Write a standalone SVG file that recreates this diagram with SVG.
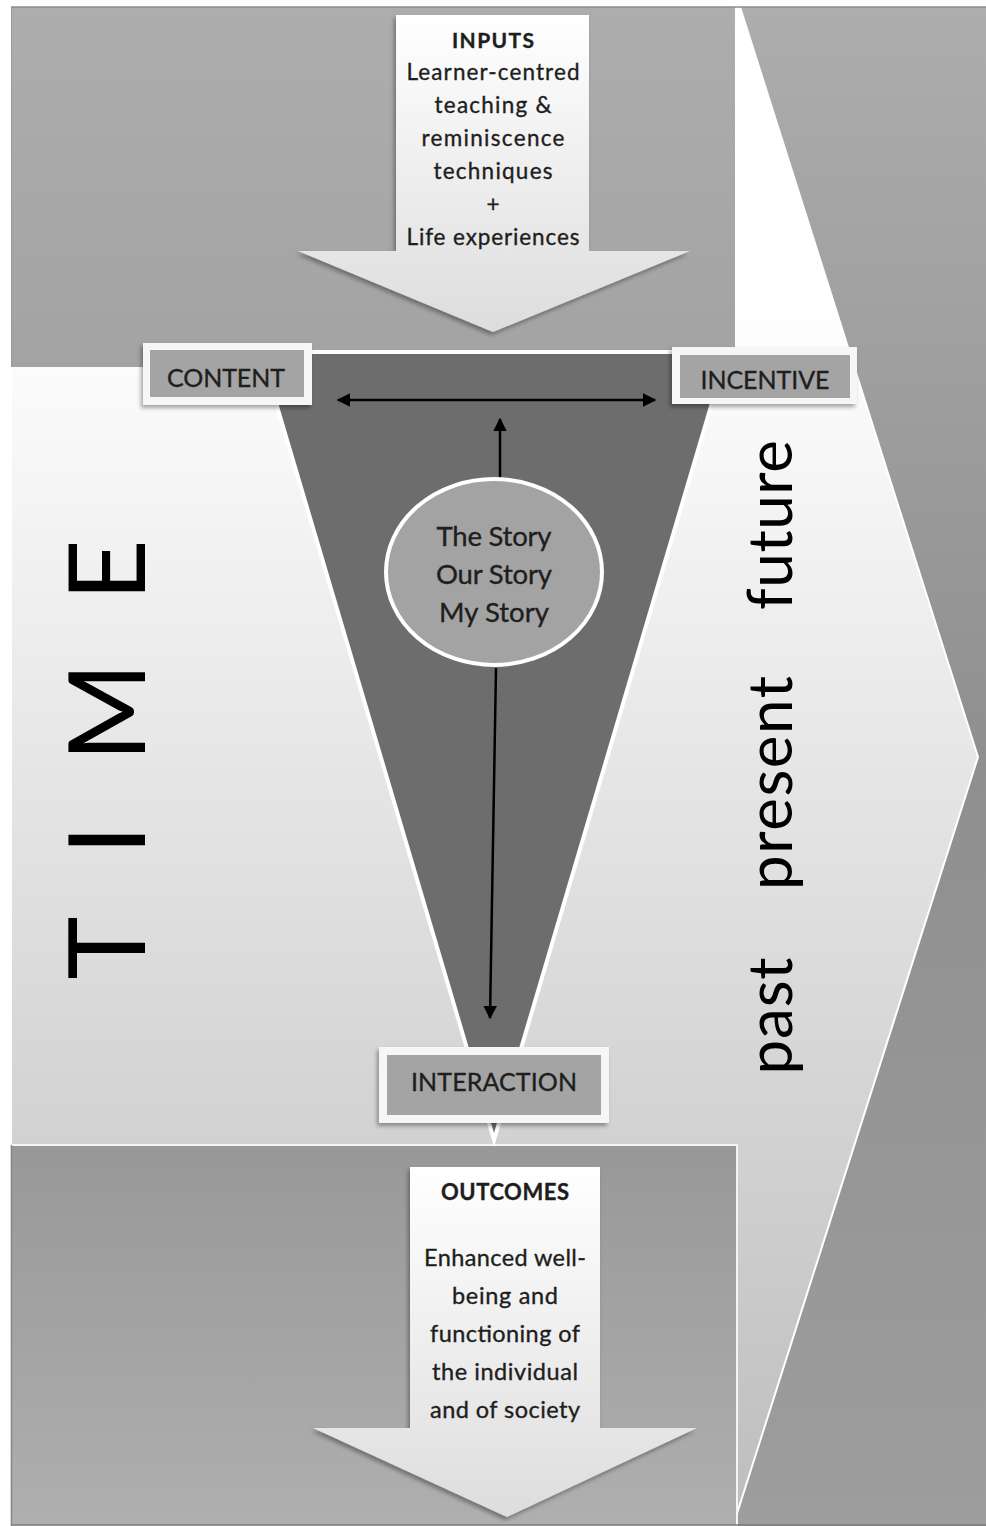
<svg xmlns="http://www.w3.org/2000/svg" width="986" height="1526" viewBox="0 0 986 1526">
<defs>
<linearGradient id="gDark" gradientUnits="userSpaceOnUse" x1="0" y1="7" x2="0" y2="1526">
<stop offset="0" stop-color="#adadad"/><stop offset="0.5" stop-color="#8f8f8f"/><stop offset="1" stop-color="#9d9d9d"/>
</linearGradient>
<linearGradient id="gLight" gradientUnits="userSpaceOnUse" x1="0" y1="300" x2="0" y2="1526">
<stop offset="0" stop-color="#ffffff"/><stop offset="1" stop-color="#bdbdbd"/>
</linearGradient>
<linearGradient id="gTop" gradientUnits="userSpaceOnUse" x1="0" y1="7" x2="0" y2="367">
<stop offset="0" stop-color="#adadad"/><stop offset="1" stop-color="#a3a3a3"/>
</linearGradient>
<linearGradient id="gBot" gradientUnits="userSpaceOnUse" x1="0" y1="1145" x2="0" y2="1526">
<stop offset="0" stop-color="#989898"/><stop offset="1" stop-color="#afafaf"/>
</linearGradient>
<linearGradient id="gArrow" x1="0" y1="0" x2="0" y2="1">
<stop offset="0" stop-color="#ffffff"/><stop offset="1" stop-color="#dddddd"/>
</linearGradient>
<filter id="sh" x="-10%" y="-10%" width="120%" height="130%">
<feDropShadow dx="-2" dy="3" stdDeviation="2" flood-color="#000" flood-opacity="0.35"/>
</filter>
<marker id="ah" viewBox="0 0 10 10" refX="9" refY="5" markerWidth="5.5" markerHeight="5.5" orient="auto-start-reverse" markerUnits="strokeWidth">
<path d="M0,0 L10,5 L0,10 Z" fill="#000"/>
</marker>
<style>
.t{font-family:Lato,"Liberation Sans",sans-serif;fill:#1e1e1e;stroke:#1e1e1e;stroke-width:0.35;text-anchor:middle}
.b{font-weight:bold}
.box-o{fill:#f6f6f6;filter:url(#sh)}
.box-i{fill:#a4a4a4}
.conn{stroke:#000;stroke-width:2.5;fill:none}
.big{font-family:Lato,"Liberation Sans",sans-serif;fill:#000;text-anchor:middle}
</style>
</defs>

<g id="background">
<rect x="11" y="7" width="975" height="1519" fill="url(#gDark)"/>
<polygon id="time-arrow" points="11,7 740,7 978,757 733,1526 11,1526" fill="url(#gLight)" stroke="#ffffff" stroke-width="2"/>
<rect x="11" y="7" width="724" height="360" fill="url(#gTop)"/>
<rect x="11" y="1145" width="726" height="381" fill="url(#gBot)" stroke="#f4f4f4" stroke-width="2"/>
<line x1="11" y1="7" x2="986" y2="7" stroke="#8c8c8c" stroke-width="1.5"/>
<line x1="11" y1="1525" x2="986" y2="1525" stroke="#7a7a7a" stroke-width="1.5"/>
<line x1="11.5" y1="7" x2="11.5" y2="367" stroke="#9a9a9a" stroke-width="1"/>
<line x1="11.5" y1="1145" x2="11.5" y2="1526" stroke="#888" stroke-width="1.5"/>
</g>

<g id="inputs">
<polygon points="396,15 589,15 589,251 690,251 493,332 298,251 396,251" fill="url(#gArrow)" filter="url(#sh)"/>
<text class="t b" x="493" y="48" font-size="21" textLength="82">INPUTS</text>
<text class="t" x="493" y="80" font-size="22.5" textLength="173">Learner-centred</text>
<text class="t" x="493" y="113" font-size="22.5" textLength="117">teaching &amp;</text>
<text class="t" x="493" y="146" font-size="22.5" textLength="143">reminiscence</text>
<text class="t" x="493" y="179" font-size="22.5" textLength="119">techniques</text>
<text class="t" x="493" y="212" font-size="22.5">+</text>
<text class="t" x="493" y="245" font-size="22.5" textLength="173">Life experiences</text>
</g>

<g id="outcomes">
<polygon points="410,1167 600,1167 600,1428 697,1428 507,1517 313,1428 410,1428" fill="url(#gArrow)" filter="url(#sh)"/>
<text class="t b" x="505" y="1200" font-size="22" textLength="128">OUTCOMES</text>
<text class="t" x="505" y="1266" font-size="23.5" textLength="162">Enhanced well-</text>
<text class="t" x="505" y="1304" font-size="23.5" textLength="106">being and</text>
<text class="t" x="505" y="1342" font-size="23.5" textLength="150">functioning of</text>
<text class="t" x="505" y="1380" font-size="23.5" textLength="146">the individual</text>
<text class="t" x="505" y="1418" font-size="23.5" textLength="150">and of society</text>
</g>

<g id="funnel">
<polygon points="261,352 727,352 494,1140" fill="#6d6d6d" stroke="#ffffff" stroke-width="4"/>
</g>

<g id="connectors">
<line class="conn" x1="338" y1="400" x2="655" y2="400" marker-start="url(#ah)" marker-end="url(#ah)"/>
<line class="conn" x1="500" y1="478" x2="500" y2="419" marker-end="url(#ah)"/>
<line class="conn" x1="496" y1="668" x2="490" y2="1018" marker-end="url(#ah)"/>
</g>

<g id="story">
<ellipse cx="494" cy="572" rx="108" ry="93" fill="#a3a3a3" stroke="#ffffff" stroke-width="4"/>
<text class="t" x="494" y="546" font-size="27.5" textLength="115">The Story</text>
<text class="t" x="494" y="584" font-size="27.5" textLength="116">Our Story</text>
<text class="t" x="494" y="622" font-size="27.5" textLength="110">My Story</text>
</g>

<g id="content">
<rect class="box-o" x="143" y="343" width="169" height="62"/>
<rect class="box-i" x="150" y="350" width="154" height="47"/>
<text class="t" x="226" y="387" font-size="25" textLength="118">CONTENT</text>
</g>

<g id="incentive">
<rect class="box-o" x="672" y="347" width="185" height="57"/>
<rect class="box-i" x="680" y="355" width="170" height="43"/>
<text class="t" x="765" y="389" font-size="25" textLength="129">INCENTIVE</text>
</g>

<g id="interaction">
<rect class="box-o" x="379" y="1047" width="230" height="76"/>
<rect class="box-i" x="387" y="1055" width="214" height="60"/>
<text class="t" x="494" y="1091" font-size="25" textLength="166">INTERACTION</text>
</g>

<g id="time-label">
<text class="big" transform="rotate(-90)" y="145" font-size="107"><tspan x="-948">T</tspan><tspan x="-840">I</tspan><tspan x="-712">M</tspan><tspan x="-570">E</tspan></text>
</g>

<g id="tenses">
<text class="big" transform="rotate(-90)" x="-1016" y="792" font-size="62" textLength="117">past</text>
<text class="big" transform="rotate(-90)" x="-783" y="792" font-size="62" textLength="214">present</text>
<text class="big" transform="rotate(-90)" x="-525" y="792" font-size="62" textLength="170">future</text>
</g>
</svg>
